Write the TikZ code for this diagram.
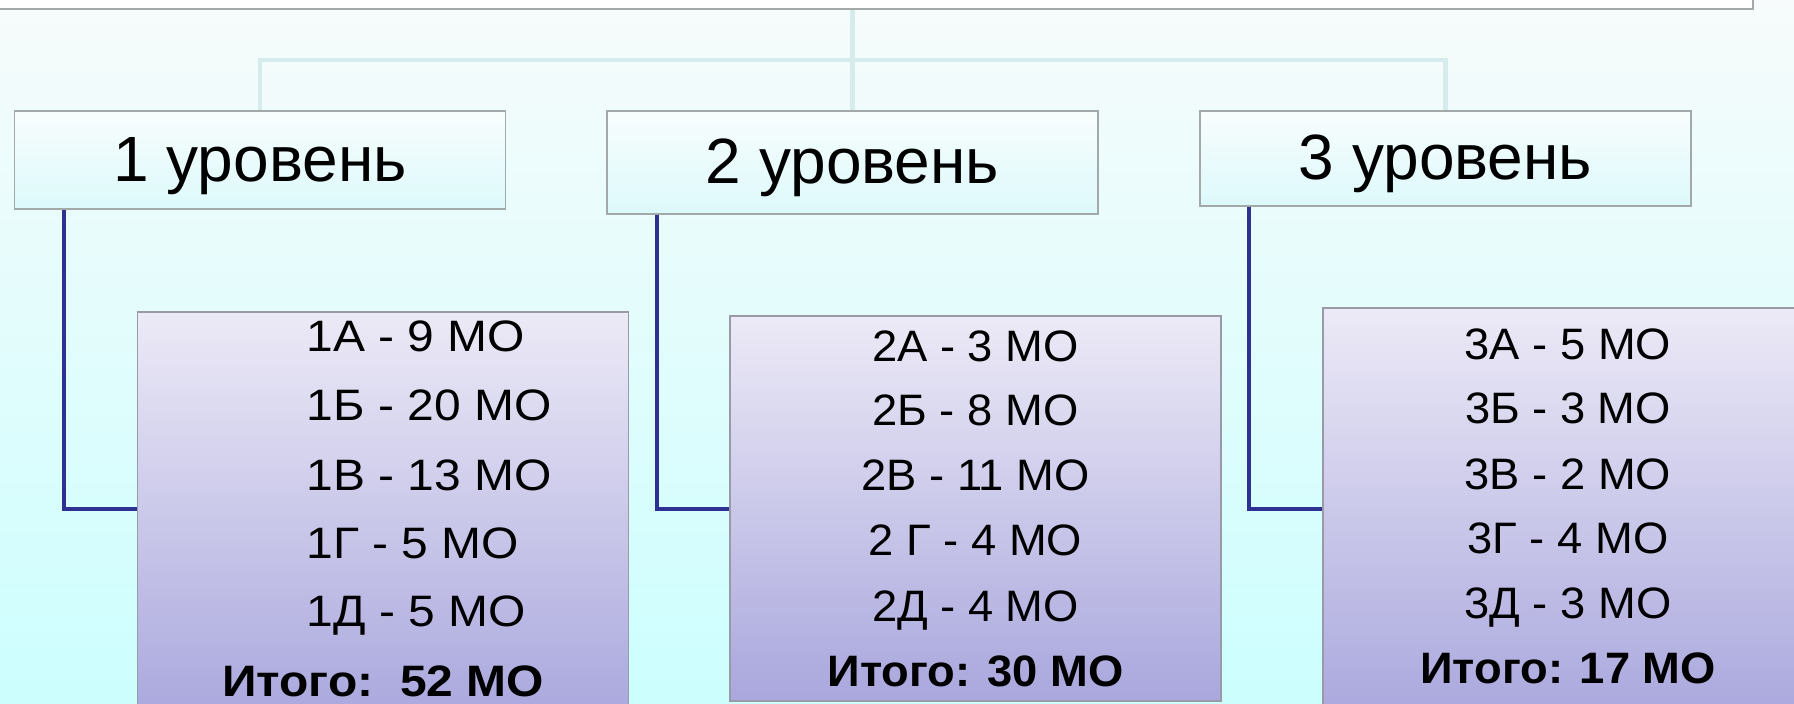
\documentclass[tikz,border=0pt]{standalone}
\usepackage{fontspec}
\setmainfont{Liberation Sans}
\newfontfamily\fontA[FakeStretch=1.09]{Liberation Sans}
\newfontfamily\fontB[FakeStretch=1.03]{Liberation Sans}
\definecolor{bgtop}{HTML}{F7FBFB}
\definecolor{bgbot}{HTML}{CCFEFE}
\definecolor{hdtop}{HTML}{F8FDFD}
\definecolor{hdbot}{HTML}{DDF9FB}
\definecolor{dtop}{HTML}{ECEAF6}
\definecolor{dbot}{HTML}{A9A7DD}
\definecolor{linkc}{HTML}{2E3192}
\definecolor{barc}{HTML}{D6ECEC}
\definecolor{edgec}{HTML}{A3A8A8}
\definecolor{edged}{HTML}{9A9AA6}
\begin{document}
\begin{tikzpicture}[x=1pt,y=-1pt,
  topbox/.style={draw=edgec, line width=1.5pt, fill=white, inner sep=0pt},
  hdr/.style={draw=edgec, line width=1.5pt, top color=hdtop, bottom color=hdbot,
    inner sep=0pt, minimum width=491pt, font=\fontsize{64}{70}\selectfont,
    text height=56pt, text depth=14pt},
  det/.style={draw=edged, line width=1.5pt, top color=dtop, bottom color=dbot,
    inner sep=0pt, minimum width=491pt},
  itemA/.style={inner sep=0pt, font=\fontA\fontsize{44}{50}\selectfont, anchor=base west},
  totalA/.style={inner sep=0pt, font=\fontA\fontsize{44}{50}\selectfont\bfseries, anchor=base},
  item/.style={inner sep=0pt, font=\fontB\fontsize{44}{50}\selectfont, anchor=base},
  total/.style={inner sep=0pt, font=\fontB\fontsize{44}{50}\selectfont\bfseries, anchor=base},
  link/.style={draw=linkc, line width=4pt},
  bar/.style={draw=barc, line width=4.5pt}]
\useasboundingbox (0,0) rectangle (1794,704);
\clip (0,0) rectangle (1794,704);
\shade[top color=bgtop, bottom color=bgbot] (0,0) rectangle (1794,704);

% top box
\node[topbox, minimum width=1773pt, minimum height=39pt] (top) at (866.5,-10.5) {};

% level headers
\node[hdr, minimum height=98pt]  (h1) at (260,160)      {1 уровень};
\node[hdr, minimum height=103pt] (h2) at (852.5,162.5)  {2 уровень};
\node[hdr, minimum height=95pt]  (h3) at (1445.5,158.5) {3 уровень};

% bar connectors
\coordinate (b) at (853,60);
\draw[bar] (h1.north) -- (h1.north |- b) -- (h3.north |- b) -- (h3.north);
\draw[bar] (top.south -| h2.north) -- (h2.north);

% detail boxes
\node[det, minimum height=408pt] (d1) at (383,515.85) {};
\node[det, minimum height=385pt] (d2) at (975.5,508.5) {};
\node[det, minimum height=412pt] (d3) at (1568.5,514) {};

% dark connectors
\coordinate (k1) at (64,509);
\coordinate (k2) at (657,509);
\coordinate (k3) at (1249,509);
\draw[link] (h1.south -| k1) -- (k1) -- (d1.west |- k1);
\draw[link] (h2.south -| k2) -- (k2) -- (d2.west |- k2);
\draw[link] (h3.south -| k3) -- (k3) -- (d3.west |- k3);

% box 1 text
\node[itemA] (a1) at (306.5,351.7) {1А - 9 МО};
\node[itemA] (a2) at (306.5,420.7) {1Б - 20 МО};
\node[itemA] (a3) at (306.5,490)   {1В - 13 МО};
\node[itemA] (a4) at (306.5,558.3) {1Г - 5 МО};
\node[itemA] (a5) at (306.5,626.7) {1Д - 5 МО};
\node[totalA] (a6) at (383,696.7) {Итого:~~52 МО};

% box 2 text
\node[item] (b1) at (975.5,361)   {2А - 3 МО};
\node[item] (b2) at (975.5,425.7) {2Б - 8 МО};
\node[item] (b3) at (975.5,490.7) {2В - 11 МО};
\node[item] (b4) at (975.5,555.7) {2 Г - 4 МО};
\node[item] (b5) at (975.5,621)   {2Д - 4 МО};
\node[total] (b6) at (975.5,686) {Итого: 30 МО};

% box 3 text
\node[item] (c1) at (1568,359)   {3А - 5 МО};
\node[item] (c2) at (1568,423.3) {3Б - 3 МО};
\node[item] (c3) at (1568,489)   {3В - 2 МО};
\node[item] (c4) at (1568,553.3) {3Г - 4 МО};
\node[item] (c5) at (1568,618.3) {3Д - 3 МО};
\node[total] (c6) at (1568,683.3) {Итого: 17 МО};
\end{tikzpicture}
\end{document}
